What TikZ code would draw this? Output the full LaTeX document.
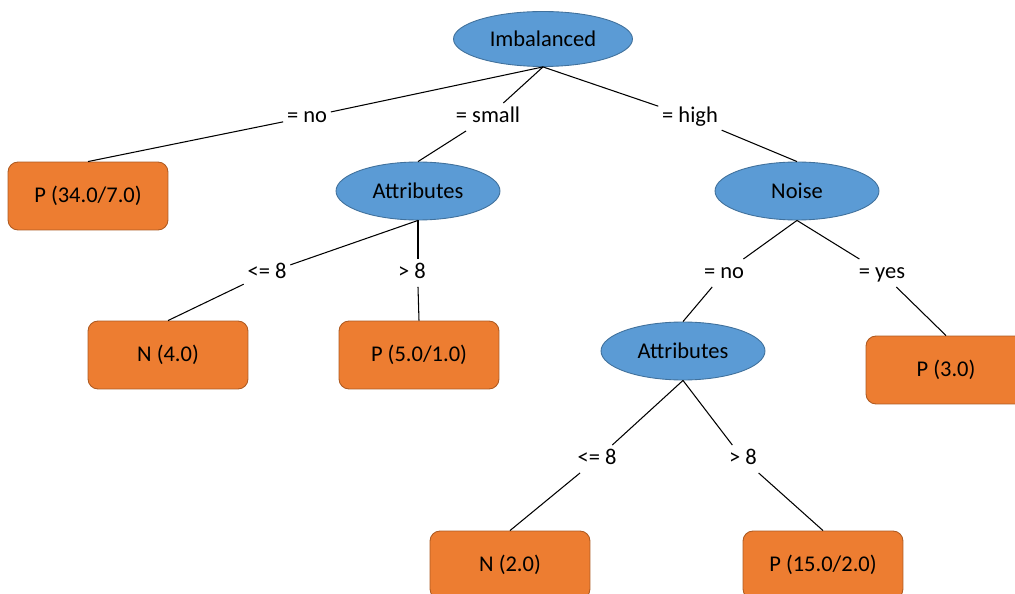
\documentclass[tikz,border=0pt]{standalone}
\usepackage{fontspec}
\setmainfont{Carlito}
\usetikzlibrary{shapes.geometric}

\begin{document}
\begin{tikzpicture}[
      x=0.02cm, y=-0.02cm,
      every node/.style={font=\fontsize{12.8}{15}\selectfont},
      attr/.style={ellipse,draw={rgb,255:red,65;green,113;blue,156},fill={rgb,255:red,91;green,155;blue,213},
        line width=0.5pt,minimum width=3.28cm,minimum height=1.16cm},
      leaf/.style={rectangle,rounded corners=0.2cm,draw={rgb,255:red,174;green,90;blue,33},
        fill={rgb,255:red,237;green,125;blue,49},line width=0.5pt,
        minimum width=3.2cm,minimum height=1.36cm},
      elabel/.style={fill=white,inner sep=2pt,text height=9pt,text depth=2.5pt},
      edge/.style={line width=0.6pt},
      ]
      \useasboundingbox (0,0) rectangle (1015,594);

      % decision nodes
      \node[attr,minimum width=3.58cm,minimum height=1.1cm] (imb) at (543,39) {Imbalanced};
      \node[attr] (attrA) at (418,191) {Attributes};
      \node[attr] (noise) at (797,191) {Noise};
      \node[attr] (attrB) at (683,351) {Attributes};

      % leaves
      \node[leaf] (p34) at (88,196) {P (34.0/7.0)};
      \node[leaf] (n4) at (168,355) {N (4.0)};
      \node[leaf] (p5) at (419,355) {P (5.0/1.0)};
      \node[leaf] (p3) at (946,370) {P (3.0)};
      \node[leaf] (n2) at (510,565) {N (2.0)};
      \node[leaf] (p15) at (823,565) {P (15.0/2.0)};

      % edge labels
      \node[elabel] (eno) at (307,117) {= no};
      \node[elabel] (esmall) at (488,117) {= small};
      \node[elabel] (ehigh) at (690,117) {= high};
      \node[elabel] (ale) at (267,273) {<= 8};
      \node[elabel] (agt) at (412,273) {> 8};
      \node[elabel] (nno) at (724,273) {= no};
      \node[elabel] (nyes) at (882,273) {= yes};
      \node[elabel] (ble) at (597,459) {<= 8};
      \node[elabel] (bgt) at (743,459) {> 8};

      \draw[edge] (imb.south) -- (eno) -- (p34.north);
      \draw[edge] (imb.south) -- (esmall) -- (attrA.north);
      \draw[edge] (imb.south) -- (ehigh) -- (noise.north);
      \draw[edge] (attrA.south) -- (ale) -- (n4.north);
      \draw[edge] (attrA.south) -- (agt.north -| attrA.south);
      \draw[edge] (agt.south -| attrA.south) -- (p5.north);
      \draw[edge] (noise.south) -- (nno) -- (attrB.north);
      \draw[edge] (noise.south) -- (nyes) -- (p3.north);
      \draw[edge] (attrB.south) -- (ble) -- (n2.north);
      \draw[edge] (attrB.south) -- (bgt) -- (p15.north);
    \end{tikzpicture}
\end{document}
